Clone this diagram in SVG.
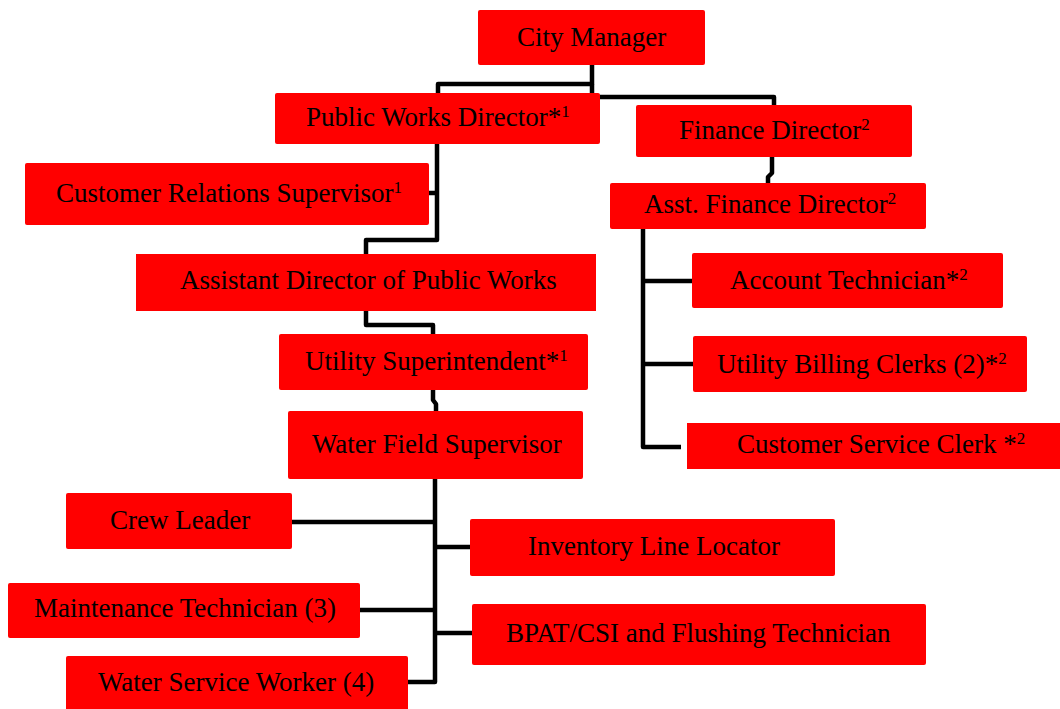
<svg xmlns="http://www.w3.org/2000/svg" width="1060" height="709" viewBox="0 0 1060 709">
  <style>
    .box { fill: #ff0000; }
    .lbl { font-family: "Liberation Serif", "Times New Roman", serif; font-size: 27px; fill: #000; }
    .sup { font-size: 17px; }
    .link { fill: none; stroke: #000; stroke-width: 4.5; stroke-linejoin: round; }
  </style>
  <rect width="1060" height="709" fill="#fff"/>

  <!-- reporting lines -->
  <g id="connectors" class="link">
    <path d="M592 65 V84 H438 V93"/>
    <path d="M592 84 V97 H774 V105"/>
    <path d="M437 144 V240 H366 V254"/>
    <path d="M429 193 H437"/>
    <path d="M366 311 V325 H433 V334"/>
    <path d="M433 390 V400 L436 404 V411"/>
    <path d="M435 479 V682 H408"/>
    <path d="M292 522 H435"/>
    <path d="M435 547 H470"/>
    <path d="M360 610 H435"/>
    <path d="M435 633 H472"/>
    <path d="M772 157 V173 L768 177 V183"/>
    <path d="M643 229 V447 H681"/>
    <path d="M643 281 H692"/>
    <path d="M643 364 H693"/>
  </g>

  <g id="city-manager">
    <rect class="box" x="478" y="10" width="227" height="55" rx="2"/>
    <text class="lbl" x="517" y="46">City Manager</text>
  </g>
  <g id="public-works-director">
    <rect class="box" x="275" y="93" width="325" height="51" rx="2"/>
    <text class="lbl" x="306" y="126">Public Works Director*<tspan class="sup" dy="-9">1</tspan></text>
  </g>
  <g id="finance-director">
    <rect class="box" x="636" y="105" width="276" height="52" rx="2"/>
    <text class="lbl" x="679" y="139">Finance Director<tspan class="sup" dy="-9">2</tspan></text>
  </g>
  <g id="customer-relations-supervisor">
    <rect class="box" x="25" y="163" width="404" height="62" rx="2"/>
    <text class="lbl" x="56" y="202">Customer Relations Supervisor<tspan class="sup" dy="-9">1</tspan></text>
  </g>
  <g id="asst-finance-director">
    <rect class="box" x="610" y="183" width="316" height="46" rx="2"/>
    <text class="lbl" x="644" y="213">Asst. Finance Director<tspan class="sup" dy="-9">2</tspan></text>
  </g>
  <g id="assistant-director-public-works">
    <rect class="box" x="136" y="254" width="460" height="57"/>
    <text class="lbl" x="180" y="289">Assistant Director of Public Works</text>
  </g>
  <g id="account-technician">
    <rect class="box" x="692" y="253" width="311" height="55" rx="2"/>
    <text class="lbl" x="730" y="289">Account Technician*<tspan class="sup" dy="-9">2</tspan></text>
  </g>
  <g id="utility-billing-clerks">
    <rect class="box" x="693" y="336" width="334" height="56" rx="2"/>
    <text class="lbl" x="717" y="373">Utility Billing Clerks (2)*<tspan class="sup" dy="-9">2</tspan></text>
  </g>
  <g id="utility-superintendent">
    <rect class="box" x="279" y="334" width="309" height="56" rx="2"/>
    <text class="lbl" x="305" y="370">Utility Superintendent*<tspan class="sup" dy="-9">1</tspan></text>
  </g>
  <g id="customer-service-clerk">
    <rect class="box" x="687" y="423" width="373" height="46"/>
    <text class="lbl" x="737" y="453">Customer Service Clerk *<tspan class="sup" dy="-9">2</tspan></text>
  </g>
  <g id="water-field-supervisor">
    <rect class="box" x="288" y="411" width="295" height="68" rx="2"/>
    <text class="lbl" x="312" y="453">Water Field Supervisor</text>
  </g>
  <g id="crew-leader">
    <rect class="box" x="66" y="493" width="226" height="56" rx="2"/>
    <text class="lbl" x="110" y="529">Crew Leader</text>
  </g>
  <g id="inventory-line-locator">
    <rect class="box" x="470" y="519" width="365" height="57" rx="2"/>
    <text class="lbl" x="528" y="555">Inventory Line Locator</text>
  </g>
  <g id="maintenance-technician">
    <rect class="box" x="8" y="583" width="352" height="55" rx="2"/>
    <text class="lbl" x="34" y="617">Maintenance Technician (3)</text>
  </g>
  <g id="bpat-csi-flushing-technician">
    <rect class="box" x="472" y="604" width="454" height="61" rx="2"/>
    <text class="lbl" x="506" y="642">BPAT/CSI and Flushing Technician</text>
  </g>
  <g id="water-service-worker">
    <rect class="box" x="66" y="656" width="342" height="60" rx="2"/>
    <text class="lbl" x="98" y="691">Water Service Worker (4)</text>
  </g>
</svg>
